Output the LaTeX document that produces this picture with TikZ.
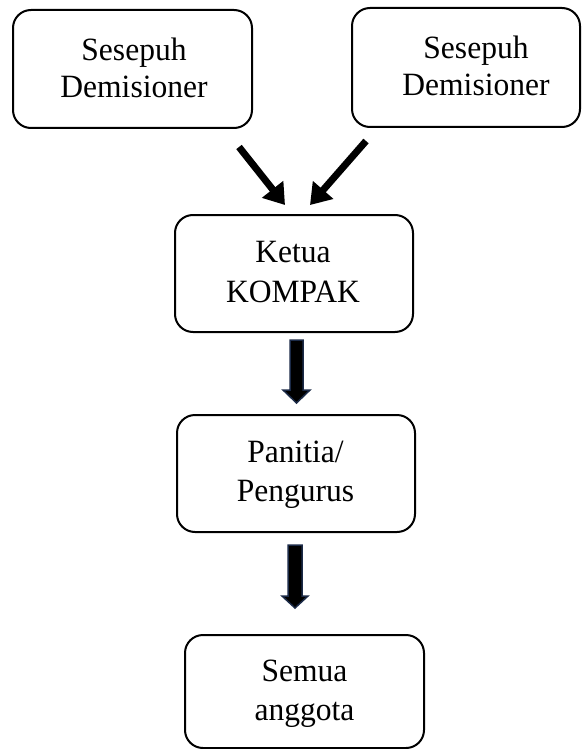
\documentclass[tikz,border=0pt]{standalone}
\usepackage{fontspec}
\setmainfont{Liberation Serif}[FakeStretch=0.97]
\usetikzlibrary{arrows.meta}
\definecolor{navyedge}{HTML}{1B2A47}
\tikzset{
  box/.style={draw=black, line width=2pt, rounded corners=18pt, inner sep=0pt},
  lbl/.style={align=center, inner sep=0pt, font=\fontsize{32.5}{39}\selectfont},
  diag/.style={line width=7pt, -{Triangle[length=20pt,width=26pt]}},
  blockarr/.style={fill=black, draw=navyedge, line width=1.5pt, line join=miter}
}
\begin{document}
\begin{tikzpicture}[x=1pt,y=-1pt]
\useasboundingbox (0,0) rectangle (581,749);
% boxes
\draw[box] (13,10) rectangle (252,128);
\node[lbl, font=\fontsize{32.5}{37.6}\selectfont] (b1) at (134,68) {Sesepuh\\Demisioner};
\draw[box] (352,8) rectangle (580,127);
\node[lbl, font=\fontsize{32.5}{36.7}\selectfont] (b2) at (476,65.7) {Sesepuh\\Demisioner};
\draw[box] (175,215) rectangle (413,332);
\node[lbl, font=\fontsize{32.5}{40}\selectfont] (b3) at (293,272.3) {Ketua\\KOMPAK};
\draw[box] (177,415) rectangle (415,532);
\node[lbl] (b4) at (295.5,474.6) {Panitia/\\Pengurus};
\draw[box] (185,635) rectangle (424,748);
\node[lbl] (b5) at (304.5,694) {Semua\\anggota};
% diagonal arrows
\coordinate (a1s) at (239,147);
\coordinate (a1e) at (285,205);
\coordinate (a2s) at (366,141);
\coordinate (a2e) at (310,205);
\draw[diag] (a1s) -- (a1e);
\draw[diag] (a2s) -- (a2e);
% block arrows
\filldraw[blockarr] (290,340) -- (303,340) -- (303,390) -- (310,390) -- (296.5,403) -- (283,390) -- (290,390) -- cycle;
\filldraw[blockarr] (288,545) -- (302,545) -- (302,596) -- (308,596) -- (295,608) -- (282,596) -- (288,596) -- cycle;
\end{tikzpicture}
\end{document}
